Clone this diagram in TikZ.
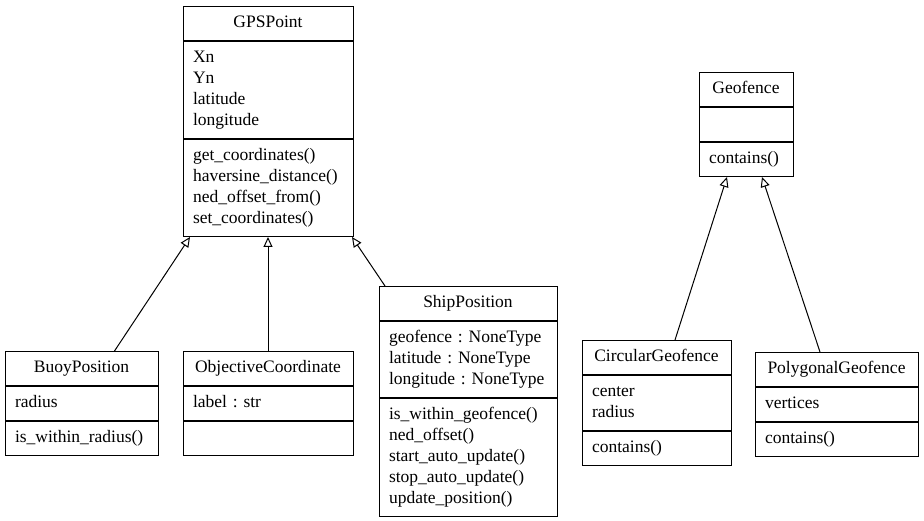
\documentclass[tikz,border=0pt]{standalone}
\usepackage{fontspec}
\setmainfont{Liberation Serif}
\frenchspacing
\usetikzlibrary{positioning,arrows.meta}

\begin{document}
\begin{tikzpicture}[x=1pt,y=-1pt,
    every node/.style={draw,line width=1pt,inner xsep=10pt,inner ysep=6.5pt,
      font=\fontsize{17.5}{21}\selectfont,
      execute at begin node=\strut,execute at end node=\strut},
    classtitle/.style={align=center,anchor=north},
    classpart/.style={align=left,below=0pt of #1},
    isa/.style={-{Triangle[open,length=10pt,width=9pt]},line width=1pt}]

  \useasboundingbox (0,0) rectangle (924,521);

  % GPSPoint and its subclasses
  \node[classtitle,text width=150pt] (gps) at (268,6) {GPSPoint};
  \node[classpart=gps,text width=150pt] (gpsattr) {Xn\\Yn\\latitude\\longitude};
  \node[classpart=gpsattr,text width=150pt] (gpsmeth)
    {get\_coordinates()\\haversine\_distance()\\ned\_offset\_from()\\set\_coordinates()};

  \node[classtitle,text width=133pt] (buoy) at (81.5,351) {BuoyPosition};
  \node[classpart=buoy,text width=133pt] (buoyattr) {radius};
  \node[classpart=buoyattr,text width=133pt] (buoymeth) {is\_within\_radius()};

  \node[classtitle,text width=150pt] (objc) at (268,351) {ObjectiveCoordinate};
  \node[classpart=objc,text width=150pt] (objcattr) {label : str};
  \node[classpart=objcattr,text width=150pt] (objcmeth) {};

  \node[classtitle,text width=158pt] (ship) at (468,286) {ShipPosition};
  \node[classpart=ship,text width=158pt] (shipattr)
    {geofence : NoneType\\latitude : NoneType\\longitude : NoneType};
  \node[classpart=shipattr,text width=158pt] (shipmeth)
    {is\_within\_geofence()\\ned\_offset()\\start\_auto\_update()\\stop\_auto\_update()\\update\_position()};

  % Geofence and its subclasses
  \node[classtitle,text width=74pt] (geo) at (746,72) {Geofence};
  \node[classpart=geo,text width=74pt] (geoattr) {};
  \node[classpart=geoattr,text width=74pt] (geometh) {contains()};

  \node[classtitle,text width=129pt] (circ) at (656.5,340) {CircularGeofence};
  \node[classpart=circ,text width=129pt] (circattr) {center\\radius};
  \node[classpart=circattr,text width=129pt] (circmeth) {contains()};

  \node[classtitle,text width=143pt] (poly) at (836.5,352) {PolygonalGeofence};
  \node[classpart=poly,text width=143pt] (polyattr) {vertices};
  \node[classpart=polyattr,text width=143pt] (polymeth) {contains()};

  \draw[isa] ([xshift=33pt]buoy.north) -- ([xshift=-78pt]gpsmeth.south);
  \draw[isa] (objc.north) -- (gpsmeth.south);
  \draw[isa] ([xshift=-83pt]ship.north) -- ([xshift=84pt]gpsmeth.south);
  \draw[isa] ([xshift=18.5pt]circ.north) -- ([xshift=-19pt]geometh.south);
  \draw[isa] ([xshift=-16.5pt]poly.north) -- ([xshift=16pt]geometh.south);

\end{tikzpicture}
\end{document}
